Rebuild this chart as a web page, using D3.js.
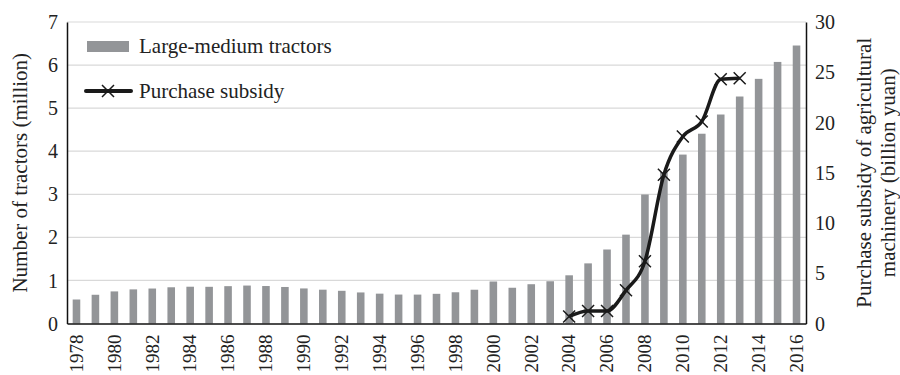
<!DOCTYPE html>
<html>
<head>
<meta charset="utf-8">
<script src="https://cdn.jsdelivr.net/npm/d3@7"></script>
<style>
  html, body { margin: 0; padding: 0; background: #fff; }
  svg text { font-family: "Liberation Serif", "Times New Roman", Times, "DejaVu Serif", serif !important; fill: #222; }
</style>
</head>
<body>
<svg id="chart" width="900" height="375"></svg>
<script>
const years = d3.range(1978, 2017).map(String);
const tractors = [0.557, 0.667, 0.745, 0.792, 0.812, 0.841, 0.854, 0.852, 0.867, 0.881, 0.870, 0.848,
  0.814, 0.785, 0.759, 0.721, 0.693, 0.672, 0.671, 0.689, 0.725, 0.784, 0.975, 0.830, 0.912, 0.981,
  1.119, 1.396, 1.718, 2.063, 2.995, 3.516, 3.922, 4.406, 4.852, 5.270, 5.680, 6.073, 6.454];
const subsidyYears = ["2004", "2005", "2006", "2007", "2008", "2009", "2010", "2011", "2012", "2013"];
const subsidy = [0.7, 1.25, 1.25, 3.3, 6.2, 14.8, 18.6, 20.1, 24.3, 24.4];
const leftTicks = [0, 1, 2, 3, 4, 5, 6, 7];
const rightTicks = [0, 5, 10, 15, 20, 25, 30];
const xTickYears = years.filter((d, i) => i % 2 === 0);
const legendLabels = ["Large-medium tractors", "Purchase subsidy"];
const leftTitle = "Number of tractors (million)";
const rightTitleLines = ["Purchase subsidy of agricultural", "machinery (billion yuan)"];

const svg = d3.select("#chart");
const L = 67, R = 806, T = 22, B = 323.5;
const barColor = "#939598";
const serif = '"Liberation Serif", "Times New Roman", Times, serif';

const x = d3.scaleBand().domain(years).range([L, R]).paddingInner(0.6).paddingOuter(0.3);
const yL = d3.scaleLinear().domain([0, 7]).range([B, T]);
const yR = d3.scaleLinear().domain([0, 30]).range([B, T]);

// gridlines
svg.append("g").selectAll("line").data(leftTicks.filter(d => d > 0)).join("line")
  .attr("x1", L).attr("x2", R)
  .attr("y1", d => yL(d)).attr("y2", d => yL(d))
  .attr("stroke", "#d9d9d9").attr("stroke-width", 1.2);

// bars
svg.append("g").selectAll("rect").data(years.map((y, i) => ({ y, v: tractors[i] }))).join("rect")
  .attr("x", d => x(d.y)).attr("width", x.bandwidth())
  .attr("y", d => yL(d.v)).attr("height", d => yL(0) - yL(d.v))
  .attr("fill", barColor);

// axes
const axL = svg.append("g").attr("transform", `translate(${L},0)`)
  .call(d3.axisLeft(yL).tickValues(leftTicks).tickFormat(d3.format("d")).tickSize(0).tickPadding(9));
const axR = svg.append("g").attr("transform", `translate(${R},0)`)
  .call(d3.axisRight(yR).tickValues(rightTicks).tickFormat(d3.format("d")).tickSize(0).tickPadding(9));
const axB = svg.append("g").attr("transform", `translate(0,${B})`)
  .call(d3.axisBottom(x).tickValues(xTickYears).tickSize(0).tickPadding(0));
[axL, axR, axB].forEach(a => {
  a.attr("font-family", serif);
  a.select(".domain").attr("stroke", "#111").attr("stroke-width", 1.5);
  a.selectAll("text").attr("fill", "#222");
});
axL.attr("font-size", 20);
axR.attr("font-size", 20);
axB.attr("font-size", 19);
axL.selectAll("text").attr("dy", "0.33em");
axR.selectAll("text").attr("dy", "0.33em");
axB.selectAll("text")
  .attr("transform", "rotate(-90)").attr("text-anchor", "end")
  .attr("x", -11).attr("y", 0).attr("dy", "0.33em");

// subsidy line
const pts = subsidyYears.map((y, i) => ({ y, v: subsidy[i] }));
const cx = d => x(d.y) + x.bandwidth() / 2;
svg.append("path").datum(pts)
  .attr("d", d3.line().x(cx).y(d => yR(d.v)).curve(d3.curveMonotoneX))
  .attr("fill", "none").attr("stroke", "#1a1a1a").attr("stroke-width", 3.5)
  .attr("stroke-linejoin", "round");
const cross = 6;
const mk = svg.append("g").selectAll("g").data(pts).join("g")
  .attr("transform", d => `translate(${cx(d)},${yR(d.v)})`);
mk.append("path").attr("d", `M${-cross},${-cross}L${cross},${cross}M${-cross},${cross}L${cross},${-cross}`)
  .attr("stroke", "#1a1a1a").attr("stroke-width", 1.5).attr("fill", "none");

// legend
const lg = svg.append("g").attr("font-family", serif);
lg.append("rect").attr("x", 87).attr("y", 41).attr("width", 42).attr("height", 11).attr("fill", barColor);
lg.append("text").attr("x", 139).attr("y", 53).attr("font-size", 21).text(legendLabels[0]);
lg.append("line").attr("x1", 86).attr("x2", 131).attr("y1", 91).attr("y2", 91)
  .attr("stroke", "#1a1a1a").attr("stroke-width", 4).attr("stroke-linecap", "round");
lg.append("path").attr("transform", "translate(108,91)")
  .attr("d", `M${-cross},${-cross}L${cross},${cross}M${-cross},${cross}L${cross},${-cross}`)
  .attr("stroke", "#1a1a1a").attr("stroke-width", 1.5);
lg.append("text").attr("x", 139).attr("y", 98).attr("font-size", 21).text(legendLabels[1]);

// axis titles
svg.append("text").attr("font-family", serif)
  .attr("transform", `translate(27,${(T + B) / 2}) rotate(-90)`)
  .attr("text-anchor", "middle").attr("font-size", 21).text(leftTitle);
const rt = svg.append("text").attr("font-family", serif)
  .attr("transform", `translate(871,${(T + B) / 2}) rotate(-90)`)
  .attr("text-anchor", "middle").attr("font-size", 21);
rt.selectAll("tspan").data(rightTitleLines).join("tspan")
  .attr("x", 0).attr("dy", (d, i) => i === 0 ? 0 : 24).text(d => d);
</script>
</body>
</html>
